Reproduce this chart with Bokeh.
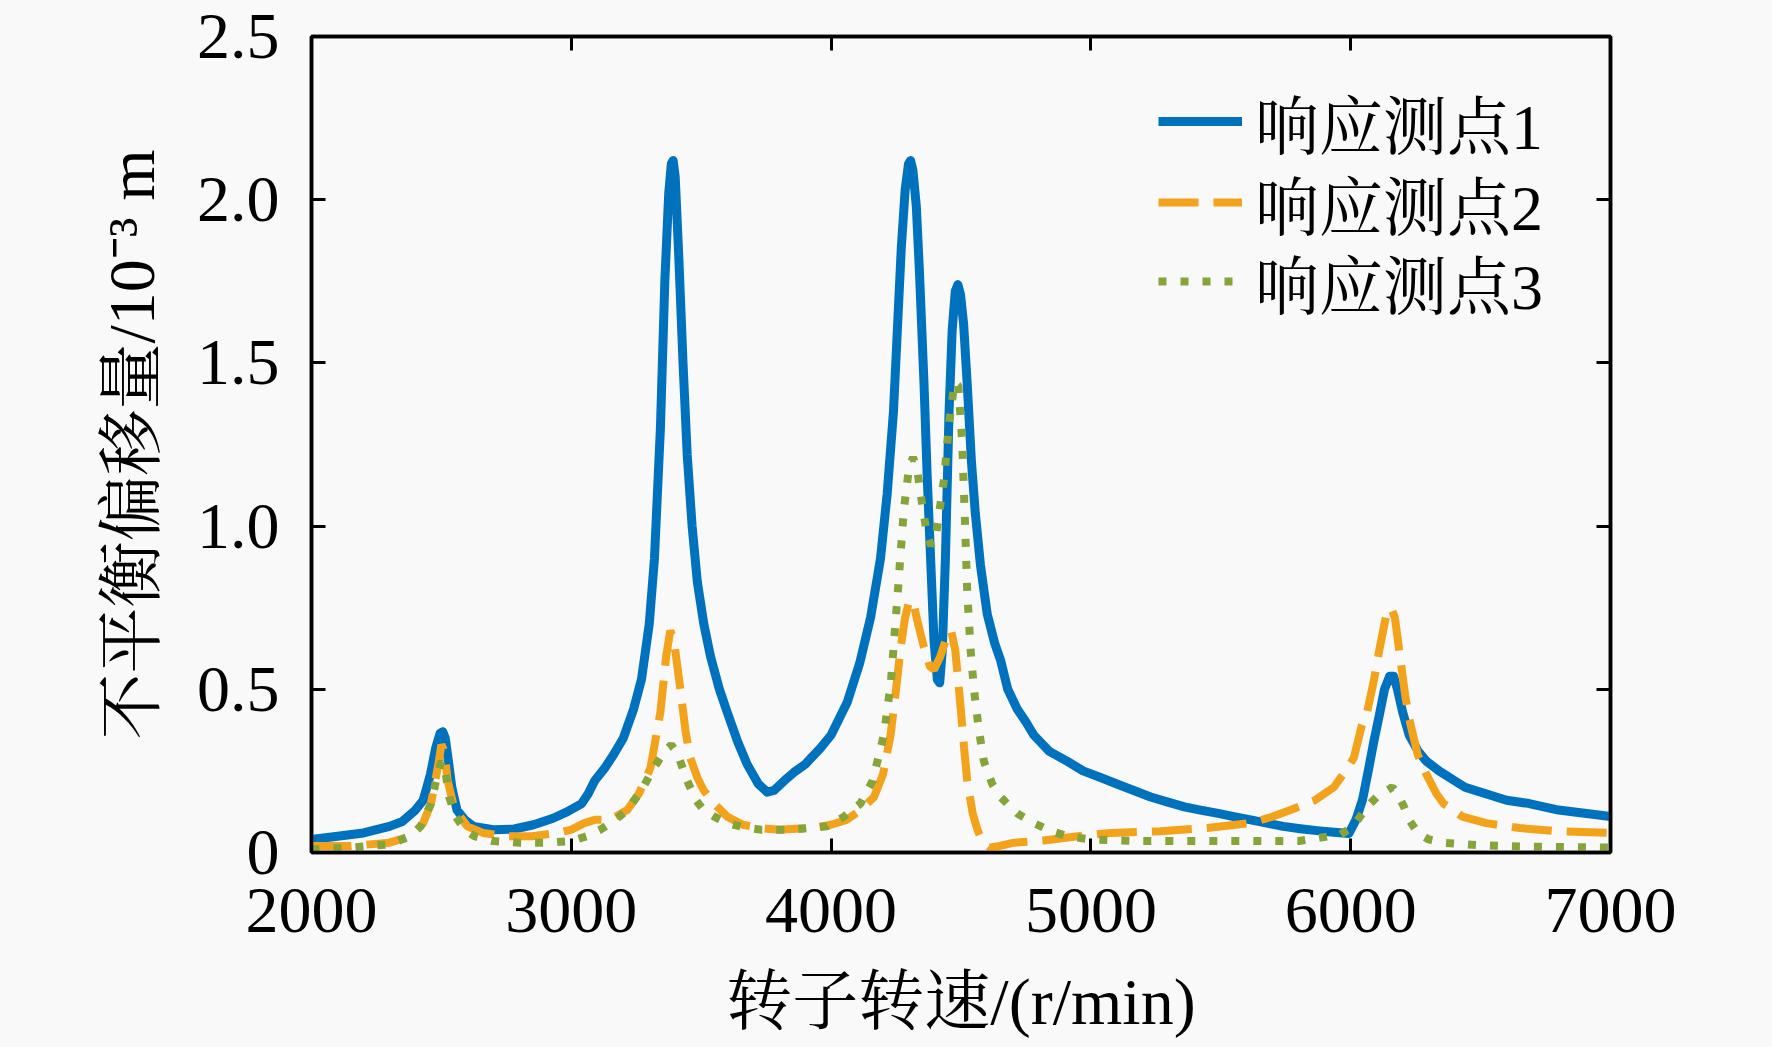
from bokeh.plotting import figure
from bokeh.models import Range1d, FixedTicker, LinearAxis, Legend, LegendItem
from bokeh.embed import file_html
from bokeh.resources import INLINE

# ---------------- data ----------------
speed_1 = [2000, 2100, 2200, 2300, 2350, 2400, 2430, 2458, 2478, 2495, 2505, 2515, 2527, 2540, 2560,
           2590, 2623, 2700, 2780, 2855, 2930, 2985, 3040, 3065, 3090, 3130, 3163, 3200, 3240, 3270,
           3300, 3320, 3343, 3360, 3375, 3385, 3392, 3400, 3414, 3430, 3446, 3465, 3485, 3510, 3536,
           3570, 3600, 3640, 3677, 3720, 3754, 3780, 3820, 3856, 3900, 3959, 4000, 4062, 4110, 4152,
           4190, 4216, 4240, 4255, 4270, 4285, 4298, 4306, 4315, 4328, 4340, 4357, 4370, 4383, 4396,
           4409, 4418, 4428, 4440, 4454, 4466, 4478, 4488, 4498, 4510, 4525, 4540, 4555, 4575, 4601,
           4630, 4652, 4680, 4716, 4750, 4780, 4840, 4908, 4970, 5037, 5100, 5165, 5230, 5293, 5360,
           5422, 5490, 5550, 5615, 5678, 5740, 5806, 5870, 5935, 5993, 6020, 6045, 6070, 6089, 6110,
           6130, 6150, 6165, 6180, 6200, 6225, 6260, 6291, 6340, 6400, 6440, 6520, 6600, 6687, 6800,
           6900, 7000]
resp_1 = [0.04, 0.05, 0.06, 0.08, 0.095, 0.13, 0.16, 0.24, 0.32, 0.365, 0.37, 0.35, 0.28, 0.20, 0.13,
          0.10, 0.08, 0.07, 0.072, 0.085, 0.105, 0.125, 0.15, 0.18, 0.22, 0.26, 0.30, 0.35, 0.44, 0.53,
          0.70, 0.90, 1.30, 1.75, 2.02, 2.11, 2.12, 2.07, 1.82, 1.50, 1.22, 1.00, 0.83, 0.70, 0.60,
          0.50, 0.43, 0.34, 0.27, 0.21, 0.185, 0.19, 0.22, 0.245, 0.27, 0.32, 0.36, 0.46, 0.58, 0.72,
          0.90, 1.10, 1.35, 1.60, 1.85, 2.03, 2.11, 2.12, 2.09, 1.98, 1.78, 1.45, 1.15, 0.90, 0.65,
          0.53, 0.52, 0.62, 0.90, 1.35, 1.60, 1.72, 1.74, 1.71, 1.62, 1.42, 1.20, 1.04, 0.88, 0.73,
          0.64, 0.59, 0.50, 0.44, 0.40, 0.36, 0.31, 0.28, 0.25, 0.23, 0.21, 0.19, 0.17, 0.155, 0.14,
          0.13, 0.12, 0.11, 0.10, 0.09, 0.08, 0.073, 0.067, 0.062, 0.058, 0.10, 0.16, 0.26, 0.34, 0.42,
          0.50, 0.54, 0.54, 0.50, 0.43, 0.36, 0.31, 0.28, 0.25, 0.22, 0.20, 0.18, 0.16, 0.15, 0.13,
          0.12, 0.11]

speed_2 = [2000, 2150, 2300, 2385, 2430, 2460, 2488, 2500, 2512, 2524, 2545, 2563, 2600, 2660, 2750,
           2850, 2950, 3000, 3050, 3090, 3150, 3215, 3260, 3305, 3343, 3365, 3381, 3395, 3420, 3440,
           3458, 3485, 3510, 3550, 3600, 3660, 3728, 3800, 3920, 4000, 4060, 4113, 4165, 4200, 4229,
           4250, 4268, 4285, 4300, 4315, 4335, 4357, 4380, 4396, 4420, 4445, 4462, 4478, 4499, 4512,
           4524, 4545, 4563, 4585, 4610, 4650, 4704, 4819, 4950, 5075, 5267, 5447, 5614, 5700, 5768,
           5862, 5935, 5980, 6012, 6043, 6063, 6090, 6110, 6135, 6155, 6170, 6190, 6210, 6225, 6258,
           6291, 6330, 6357, 6430, 6522, 6650, 6800, 7000]
resp_2 = [0.02, 0.02, 0.03, 0.05, 0.09, 0.15, 0.27, 0.33, 0.31, 0.22, 0.15, 0.12, 0.08, 0.06, 0.05,
          0.05, 0.06, 0.07, 0.09, 0.10, 0.10, 0.13, 0.18, 0.26, 0.43, 0.60, 0.68, 0.65, 0.50, 0.37,
          0.29, 0.23, 0.19, 0.15, 0.11, 0.085, 0.075, 0.07, 0.075, 0.085, 0.10, 0.13, 0.17, 0.24, 0.36,
          0.50, 0.63, 0.72, 0.77, 0.77, 0.70, 0.63, 0.57, 0.56, 0.60, 0.66, 0.68, 0.62, 0.44, 0.32,
          0.22, 0.12, 0.07, 0.03, 0.015, 0.02, 0.03, 0.037, 0.05, 0.06, 0.065, 0.075, 0.09, 0.11, 0.13,
          0.16, 0.20, 0.25, 0.29, 0.39, 0.43, 0.53, 0.62, 0.72, 0.75, 0.72, 0.60, 0.48, 0.41, 0.30,
          0.24, 0.18, 0.15, 0.11, 0.09, 0.075, 0.065, 0.06]

speed_3 = [2000, 2150, 2300, 2380, 2420, 2460, 2485, 2500, 2515, 2530, 2555, 2590, 2627, 2700, 2800,
           2900, 3000, 3060, 3112, 3170, 3215, 3270, 3318, 3360, 3385, 3410, 3446, 3480, 3510, 3550,
           3600, 3660, 3728, 3850, 3985, 4050, 4113, 4160, 4203, 4230, 4255, 4280, 4300, 4315, 4330,
           4350, 4370, 4385, 4405, 4434, 4455, 4475, 4490, 4505, 4515, 4524, 4537, 4550, 4568, 4588,
           4620, 4652, 4716, 4780, 4850, 4908, 5000, 5200, 5500, 5800, 5961, 6010, 6063, 6100, 6140,
           6160, 6180, 6205, 6225, 6258, 6300, 6357, 6500, 6687, 7000]
resp_3 = [0.01, 0.015, 0.025, 0.05, 0.08, 0.15, 0.24, 0.28, 0.25, 0.17, 0.11, 0.07, 0.05, 0.035, 0.03,
          0.03, 0.035, 0.05, 0.07, 0.10, 0.13, 0.19, 0.26, 0.31, 0.33, 0.30, 0.22, 0.16, 0.13, 0.11,
          0.09, 0.078, 0.07, 0.07, 0.08, 0.11, 0.15, 0.22, 0.36, 0.52, 0.78, 1.05, 1.18, 1.21, 1.18,
          1.07, 0.97, 0.94, 0.98, 1.14, 1.32, 1.44, 1.43, 1.25, 1.02, 0.80, 0.62, 0.50, 0.38, 0.28,
          0.21, 0.17, 0.12, 0.09, 0.065, 0.05, 0.04, 0.035, 0.035, 0.035, 0.055, 0.08, 0.14, 0.17, 0.19,
          0.20, 0.18, 0.14, 0.10, 0.06, 0.04, 0.03, 0.022, 0.018, 0.015]

series_names = ["响应测点1", "响应测点2", "响应测点3"]
x_ticks = [2000, 3000, 4000, 5000, 6000, 7000]
y_ticks = [0, 0.5, 1.0, 1.5, 2.0, 2.5]
y_tick_labels = ["0", "0.5", "1.0", "1.5", "2.0", "2.5"]
x_title = "转子转速/(r/min)"
y_title = "不平衡偏移量/10⁻³ m"

# ---------------- styling ----------------
FONT = "'Liberation Serif', 'Noto Serif CJK SC', 'Noto Sans CJK SC', serif"
BG = "#F9F9F9"
C1, C2, C3 = "#0072BD", "#F3A21C", "#86A43A"

FL, FR, FT, FB = 311, 1610, 36, 852   # frame edges in page pixels
W, H = 1764, 1095
p = figure(width=W, height=H, output_backend="svg", toolbar_location=None,
           x_range=Range1d(2000, 7000), y_range=Range1d(0, 2.5),
           min_border_left=FL, min_border_right=W - FR,
           min_border_top=FT, min_border_bottom=H - FB)
p.background_fill_color = BG
p.border_fill_color = BG
p.outline_line_color = "black"
p.outline_line_width = 3.5
p.xgrid.visible = False
p.ygrid.visible = False

r1 = p.line(speed_1, resp_1, line_color=C1, line_width=9, line_join="round")
r2 = p.line(speed_2, resp_2, line_color=C2, line_width=8, line_dash="40 15")
r3 = p.line(speed_3, resp_3, line_color=C3, line_width=8, line_dash="8 14")


def style_axis(ax, ticks, labels=True):
    ax.ticker = FixedTicker(ticks=ticks)
    ax.axis_line_color = "black"
    ax.axis_line_width = 3.5
    ax.major_tick_in = 14
    ax.major_tick_out = 0
    ax.major_tick_line_width = 3
    ax.major_tick_line_color = "black"
    ax.minor_tick_line_color = None
    ax.major_label_text_font = FONT
    ax.axis_label_text_font = FONT
    ax.axis_label_text_font_style = "normal"
    ax.axis_label_text_color = "black"
    if labels:
        ax.major_label_text_color = "black"
        ax.major_label_text_font_size = "66px"
        ax.axis_label_text_font_size = "66px"
    else:
        ax.major_label_text_color = None
        ax.major_label_text_font_size = "1px"
        ax.major_label_standoff = 0


xa = p.xaxis[0]
style_axis(xa, x_ticks)
xa.axis_label = x_title
xa.major_label_standoff = 36
xa.axis_label_standoff = 30

ya = p.yaxis[0]
style_axis(ya, y_ticks)
ya.axis_label = y_title
ya.major_label_standoff = 32
ya.axis_label_standoff = 26
ya.major_label_overrides = {t: s for t, s in zip(y_ticks, y_tick_labels)}

top_ax = LinearAxis()
style_axis(top_ax, x_ticks, labels=False)
p.add_layout(top_ax, "above")
right_ax = LinearAxis()
style_axis(right_ax, y_ticks, labels=False)
p.add_layout(right_ax, "right")

# one single-entry legend per row, so the row pitch matches the reference
row_centres = [117, 198, 277]
for name, rend, cy in zip(series_names, [r1, r2, r3], row_centres):
    lg = Legend(items=[LegendItem(label=name, renderers=[rend])],
                location=(1158 - FL, FB - cy - 50))
    lg.label_text_font = FONT
    lg.label_text_font_size = "64px"
    lg.label_text_color = "black"
    lg.glyph_width = 84
    lg.glyph_height = 60
    lg.label_standoff = 13
    lg.padding = 0
    lg.margin = 0
    lg.border_line_color = None
    lg.background_fill_alpha = 0
    p.add_layout(lg)

html = file_html(p, INLINE)
html = html.replace("<head>",
                    "<head><style>html, body { background: #F9F9F9; overflow: hidden; }</style>", 1)
open("out.html", "w").write(html)
